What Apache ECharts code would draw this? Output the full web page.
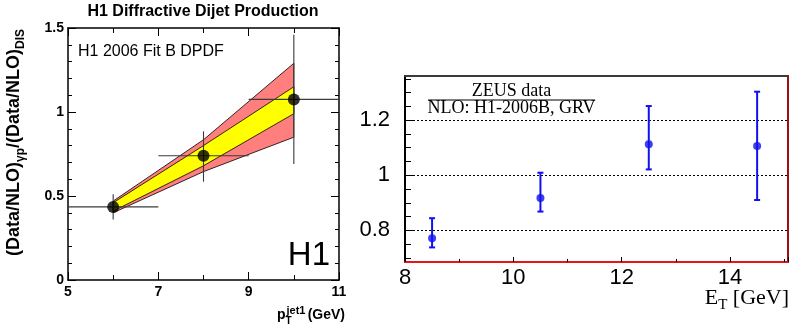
<!DOCTYPE html>
<html><head><meta charset="utf-8">
<script src="https://cdn.jsdelivr.net/npm/echarts@6/dist/echarts.min.js"></script>
<style>html,body{margin:0;padding:0;background:#fff}#c{width:792px;height:325px}</style>
</head><body><div id="c"></div>
<script>
// ---- Left panel: H1 diffractive dijet ratio ----
const h1X   = [6, 8, 10];
const h1Y   = [0.435, 0.74, 1.075];
const h1XLo = [5, 7, 9];
const h1XHi = [7, 9, 11];
const h1YLo = [0.36, 0.585, 0.69];
const h1YHi = [0.51, 0.885, 1.46];
// NLO uncertainty bands
const bandX = [6, 8, 10];
const redLo = [0.40, 0.645, 0.85];
const redHi = [0.47, 0.835, 1.29];
const yelLo = [0.41, 0.68, 0.99];
const yelHi = [0.46, 0.80, 1.15];
// ---- Right panel: ZEUS ratio ----
const zeusX  = [8.5, 10.5, 12.5, 14.5];
const zeusY  = [0.771, 0.917, 1.112, 1.106];
const zeusLo = [0.738, 0.868, 1.021, 0.91];
const zeusHi = [0.844, 1.009, 1.251, 1.303];
// axis ranges
const leftXRange = [5, 11], leftYRange = [0, 1.5];
const rightXRange = [8, 15.07], rightYRange = [0.685, 1.36];

const SANS = 'Liberation Sans, Arial, Helvetica, sans-serif';
const SERIF = 'Liberation Serif, Times New Roman, serif';

const chart = echarts.init(document.getElementById('c'), null, {renderer: 'canvas'});

function frameAxis(grid, range, opt) {
  return Object.assign({
    type: 'value', gridIndex: grid, min: range[0], max: range[1],
    axisLine: {show: true, onZero: false, lineStyle: {color: '#000', width: 1.5}},
    axisLabel: {show: false},
    axisTick: {show: false},
    splitLine: {show: false}
  }, opt);
}

const bandData = bandX.map((x, i) => [x, redLo[i], redHi[i], yelLo[i], yelHi[i]]);

const option = {
  animation: false,
  backgroundColor: '#fff',
  grid: [
    {left: 68, top: 28, width: 271, height: 252},
    {left: 405, top: 76, width: 383, height: 186}
  ],
  xAxis: [
    frameAxis(0, leftXRange, {
      position: 'bottom', interval: 2,
      axisLabel: {show: true, fontFamily: SANS, fontWeight: 'bold', fontSize: 14, color: '#000', margin: 5},
      axisTick: {show: true, inside: true, length: 8, lineStyle: {color: '#000'}},
      minorTick: {show: true, splitNumber: 2, length: 5, lineStyle: {color: '#000'}}
    }),
    frameAxis(0, leftXRange, {
      position: 'top', interval: 2,
      axisTick: {show: true, inside: true, length: 8, lineStyle: {color: '#000'}},
      minorTick: {show: true, splitNumber: 2, length: 5, lineStyle: {color: '#000'}}
    }),
    frameAxis(1, rightXRange, {
      position: 'bottom', splitNumber: 3, z: 5,
      axisLine: {show: true, onZero: false, lineStyle: {color: '#e8141a', width: 2}},
      axisLabel: {show: true, fontFamily: SANS, fontSize: 22, color: '#000', margin: 5, showMaxLabel: false},
      axisTick: {show: true, inside: true, length: 5, lineStyle: {color: '#000'}},
      minorTick: {show: true, splitNumber: 2, length: 3, lineStyle: {color: '#000'}}
    }),
    frameAxis(1, rightXRange, {
      position: 'top', z: 5,
      axisLine: {show: true, onZero: false, lineStyle: {color: '#3a3a3a', width: 2}}
    })
  ],
  yAxis: [
    frameAxis(0, leftYRange, {
      position: 'left', interval: 0.5,
      axisLabel: {show: true, fontFamily: SANS, fontWeight: 'bold', fontSize: 14, color: '#000', margin: 4},
      axisTick: {show: true, inside: true, length: 8, lineStyle: {color: '#000'}},
      minorTick: {show: true, splitNumber: 5, length: 4, lineStyle: {color: '#000'}}
    }),
    frameAxis(0, leftYRange, {
      position: 'right', interval: 0.5,
      axisTick: {show: true, inside: true, length: 8, lineStyle: {color: '#000'}},
      minorTick: {show: true, splitNumber: 5, length: 4, lineStyle: {color: '#000'}}
    }),
    frameAxis(1, rightYRange, {
      position: 'left', splitNumber: 3, z: 4,
      axisLine: {show: true, onZero: false, lineStyle: {color: '#000', width: 2}},
      axisLabel: {show: true, fontFamily: SANS, fontSize: 22, color: '#000', margin: 15, showMinLabel: false, showMaxLabel: false},
      axisTick: {show: true, inside: true, length: 10, lineStyle: {color: '#000'}},
      minorTick: {show: true, splitNumber: 4, length: 6, lineStyle: {color: '#000'}},
      splitLine: {show: true, lineStyle: {color: '#000', width: 1, type: [2, 2]}}
    }),
    frameAxis(1, rightYRange, {
      position: 'right', z: 5,
      axisLine: {show: true, onZero: false, lineStyle: {color: '#a01010', width: 2}}
    })
  ],
  series: [
    {
      type: 'custom', xAxisIndex: 0, yAxisIndex: 0, z: 1,
      data: bandData,
      renderItem: function (params, api) {
        if (params.dataIndex !== 0) return null;
        const n = bandData.length;
        const pt = (x, y) => api.coord([x, y]);
        const redPts = [], yelPts = [];
        for (let i = 0; i < n; i++) { redPts.push(pt(bandData[i][0], bandData[i][2])); yelPts.push(pt(bandData[i][0], bandData[i][4])); }
        for (let i = n - 1; i >= 0; i--) { redPts.push(pt(bandData[i][0], bandData[i][1])); yelPts.push(pt(bandData[i][0], bandData[i][3])); }
        return {type: 'group', children: [
          {type: 'polygon', shape: {points: redPts}, style: {fill: '#ff7f7f', stroke: '#000', lineWidth: 0.8}},
          {type: 'polygon', shape: {points: yelPts}, style: {fill: '#ffff00', stroke: '#000', lineWidth: 0.8}}
        ]};
      }
    },
    {
      type: 'custom', xAxisIndex: 0, yAxisIndex: 0, z: 2,
      data: h1X.map((x, i) => [x, h1Y[i], h1XLo[i], h1XHi[i], h1YLo[i], h1YHi[i]]),
      renderItem: function (params, api) {
        const x = api.value(0), y = api.value(1);
        const l = api.coord([api.value(2), y]), r = api.coord([api.value(3), y]);
        const b = api.coord([x, api.value(4)]), t = api.coord([x, api.value(5)]);
        const st = {stroke: '#3a3a3a', lineWidth: 1.1};
        return {type: 'group', children: [
          {type: 'line', shape: {x1: l[0], y1: l[1], x2: r[0], y2: r[1]}, style: st},
          {type: 'line', shape: {x1: t[0], y1: t[1], x2: b[0], y2: b[1]}, style: st}
        ]};
      }
    },
    {
      type: 'scatter', xAxisIndex: 0, yAxisIndex: 0, z: 3,
      symbol: 'circle', symbolSize: 12,
      itemStyle: {color: '#000'},
      data: h1X.map((x, i) => [x, h1Y[i]])
    },
    {
      type: 'custom', xAxisIndex: 2, yAxisIndex: 2, z: 6,
      data: zeusX.map((x, i) => [x, zeusY[i], zeusLo[i], zeusHi[i]]),
      renderItem: function (params, api) {
        const x = api.value(0);
        const b = api.coord([x, api.value(2)]), t = api.coord([x, api.value(3)]);
        const st = {stroke: '#1010f0', lineWidth: 2};
        const w = 3;
        return {type: 'group', children: [
          {type: 'line', shape: {x1: t[0], y1: t[1], x2: b[0], y2: b[1]}, style: st},
          {type: 'line', shape: {x1: t[0] - w, y1: t[1], x2: t[0] + w, y2: t[1]}, style: st},
          {type: 'line', shape: {x1: b[0] - w, y1: b[1], x2: b[0] + w, y2: b[1]}, style: st}
        ]};
      }
    },
    {
      type: 'scatter', xAxisIndex: 2, yAxisIndex: 2, z: 7,
      symbol: 'circle', symbolSize: 8,
      itemStyle: {color: '#1010f0'},
      data: zeusX.map((x, i) => [x, zeusY[i]])
    }
  ],
  graphic: [
    {type: 'text', x: 203, y: 11.5, style: {text: 'H1 Diffractive Dijet Production', font: 'bold 16px ' + SANS, fill: '#000', align: 'center', verticalAlign: 'middle'}},
    {type: 'text', x: 78, y: 51.5, style: {text: 'H1 2006 Fit B DPDF', font: '16px ' + SANS, fill: '#000', align: 'left', verticalAlign: 'middle'}},
    {type: 'text', x: 330, y: 256, style: {text: 'H1', font: '33px ' + SANS, fill: '#000', align: 'right', verticalAlign: 'middle'}},
    {type: 'text', x: 277, y: 315, style: {text: 'p', font: 'bold 14px ' + SANS, fill: '#000', align: 'left', verticalAlign: 'middle'}},
    {type: 'text', x: 285.5, y: 321, style: {text: 'T', font: 'bold 10px ' + SANS, fill: '#000', align: 'left', verticalAlign: 'middle'}},
    {type: 'text', x: 286.5, y: 310.5, style: {text: 'jet1', font: 'bold 11px ' + SANS, fill: '#000', align: 'left', verticalAlign: 'middle'}},
    {type: 'text', x: 345, y: 315, style: {text: '(GeV)', font: 'bold 14px ' + SANS, fill: '#000', align: 'right', verticalAlign: 'middle'}},
    {type: 'text', x: 16, y: 29, rotation: Math.PI / 2,
      style: {
        text: '{m|(Data/NLO)}{s|γp}{m|/(Data/NLO)}{s|DIS}',
        align: 'right', verticalAlign: 'middle',
        rich: {
          m: {fontFamily: SANS, fontWeight: 'bold', fontSize: 18, lineHeight: 22, fill: '#000', verticalAlign: 'top'},
          s: {fontFamily: SANS, fontWeight: 'bold', fontSize: 12, lineHeight: 12, fill: '#000', verticalAlign: 'bottom'}
        }
      }},
    // ZEUS legend as a fraction
    {type: 'text', x: 511.5, y: 91, style: {text: 'ZEUS data', font: '18px ' + SERIF, fill: '#000', align: 'center', verticalAlign: 'middle'}},
    {type: 'line', shape: {x1: 428, y1: 100, x2: 595, y2: 100}, style: {stroke: '#000', lineWidth: 1.2}},
    {type: 'text', x: 511.5, y: 108, style: {text: 'NLO: H1-2006B, GRV', font: '18px ' + SERIF, fill: '#000', align: 'center', verticalAlign: 'middle'}},
    {type: 'text', x: 789, y: 300, style: {
      text: '{m|E}{s|T}{m| [GeV]}', align: 'right', verticalAlign: 'middle',
      rich: {
        m: {fontFamily: SERIF, fontSize: 22, lineHeight: 26, fill: '#000', verticalAlign: 'top'},
        s: {fontFamily: SERIF, fontSize: 15, lineHeight: 14, fill: '#000', verticalAlign: 'bottom'}
      }}}
  ]
};
chart.setOption(option);
</script>
</body></html>
